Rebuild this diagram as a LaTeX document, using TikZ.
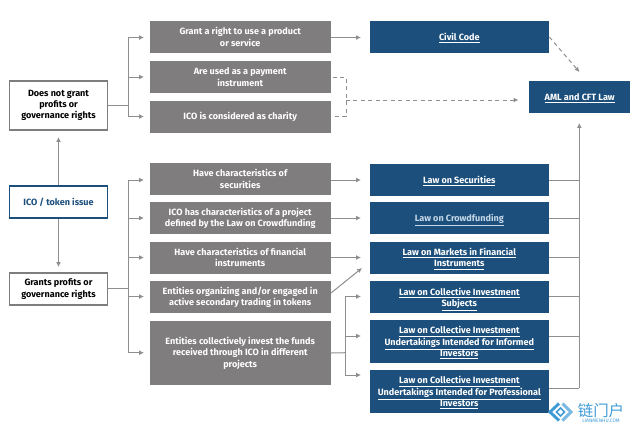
\documentclass[tikz,border=0pt]{standalone}
\usepackage{fontspec}
\setmainfont{Fira Sans}
\newfontfamily\cjkfont{Noto Sans CJK SC}
\usetikzlibrary{arrows.meta}
\definecolor{boxgray}{HTML}{7F7D7D}
\definecolor{boxblue}{HTML}{1C4F7C}
\definecolor{linegray}{HTML}{8E8E8E}
\definecolor{markblue}{HTML}{3F9BD6}
\definecolor{palelink}{HTML}{C5D8E8}
\tikzset{
  x=0.75pt,y=-0.75pt,
  basebox/.style={align=center,font=\fontsize{6.8pt}{8.5pt}\selectfont\bfseries,inner sep=0pt,minimum height=24pt},
  graybox/.style={basebox,fill=boxgray,text=white,minimum width=136pt},
  bluebox/.style={basebox,fill=boxblue,text=white,minimum width=134.6pt},
  startbox/.style={basebox,draw=boxgray,line width=0.9pt,fill=white,text=black,minimum width=73.5pt},
  conn/.style={draw=linegray,line width=0.75pt},
  arr/.style={conn,-{Latex[length=3.6pt,width=3.6pt]}},
  dashline/.style={draw=linegray,line width=0.75pt,dash pattern=on 3pt off 2.6pt},
}
\newcommand{\ul}[1]{\raisebox{0pt}[\height][0pt]{\underline{#1}}}
\begin{document}
\begin{tikzpicture}
\useasboundingbox (0,0) rectangle (635,430);
% left column
\node[startbox,minimum height=36.75pt] (a) at (58.5,105.5) {Does not grant\\profits or\\governance rights};
\node[startbox,draw=boxblue,text=boxblue] (b) at (58.5,202) {ICO / token issue};
\node[startbox] (c) at (58.5,289) {Grants profits or\\governance rights};
% gray column
\node[graybox] (g1) at (240.2,37) {Grant a right to use a product\\or service};
\node[graybox] (g2) at (240.2,77) {Are used as a payment\\instrument};
\node[graybox] (g3) at (240.2,117) {\raisebox{1.5pt}{ICO is considered as charity}};
\node[graybox] (g4) at (240.2,179) {Have characteristics of\\securities};
\node[graybox] (g5) at (240.2,218) {ICO has characteristics of a project\\defined by the Law on Crowdfunding};
\node[graybox] (g6) at (240.2,257.5) {Have characteristics of financial\\instruments};
\node[graybox] (g7) at (240.2,297) {Entities organizing and/or engaged in\\active secondary trading in tokens};
\node[graybox,minimum height=48pt] (g8) at (240.2,353) {Entities collectively invest the funds\\received through ICO in different\\projects};
% blue column
\node[bluebox] (l1) at (459.3,37) {\ul{Civil Code}};
\node[bluebox] (l2) at (459.3,179.5) {\ul{Law on Securities}};
\node[bluebox,text=palelink] (l3) at (459.3,218) {\ul{Law on Crowdfunding}};
\node[bluebox] (l4) at (459.3,257.5) {\ul{Law on Markets in Financial}\\\ul{Instruments}};
\node[bluebox] (l5) at (459.3,297) {\ul{Law on Collective Investment}\\\ul{Subjects}};
\node[bluebox,minimum height=32.25pt] (l6) at (459.3,341.5) {\ul{Law on Collective Investment}\\\ul{Undertakings Intended for Informed}\\\ul{Investors}};
\node[bluebox,minimum height=32.25pt] (l7) at (459.3,391.5) {\ul{Law on Collective Investment}\\\ul{Undertakings Intended for Professional}\\\ul{Investors}};
\node[bluebox,minimum width=75.4pt] (m) at (579.7,97) {\ul{AML and CFT Law}};
% helper points
\coordinate (t1) at (144,37.5);
\coordinate (t2) at (144,77);
\coordinate (t3) at (144,116.5);
\coordinate (t4) at (144,180);
\coordinate (t5) at (144,218);
\coordinate (t6) at (144,257.5);
\coordinate (t7) at (144,296.5);
\coordinate (t8) at (144,352.7);
\coordinate (bus1) at (128.5,105.5);
\coordinate (bus2) at (128.5,288.5);
\coordinate (r1) at (361,37.5);
\coordinate (r2) at (361,180);
\coordinate (r3) at (361,218);
\coordinate (r4) at (361,257.5);
\coordinate (r4b) at (362,268);
\coordinate (r5) at (361,296.5);
\coordinate (r6) at (361,336);
\coordinate (r7) at (361,375);
\coordinate (bus3) at (345.5,352.7);
\coordinate (top) at (579.3,123);
\coordinate (s2) at (579.3,180);
\coordinate (s3) at (579.3,218);
\coordinate (s4) at (579.3,257.5);
\coordinate (s5) at (579.3,296.5);
\coordinate (s6) at (579.3,336);
\coordinate (s7) at (579.3,388);
\coordinate (g7o) at (331,293);
\coordinate (d0) at (333,77);
\coordinate (d1) at (346,77);
\coordinate (d2) at (346,116.5);
\coordinate (d3) at (333,116.5);
\coordinate (dm) at (346,100);
\coordinate (dt) at (518.5,100);
\coordinate (ct) at (579.5,72);
% left connectors
\draw[arr] (b.north) -- (58.5,137);
\draw[arr] (b.south) -- (58.5,267);
\draw[conn] (a.east |- bus1) -- (bus1);
\draw[conn] (c.east |- bus2) -- (bus2);
\draw[arr] (bus1) |- (t1);
\draw[arr] (bus1) |- (t2);
\draw[arr] (bus1) |- (t3);
\draw[conn] (t4 -| bus1) -- (t8 -| bus1);
\foreach \t in {t4,t5,t6,t7,t8} \draw[arr] (\t -| bus1) -- (\t);
% gray to blue
\draw[arr] (g1.east |- r1) -- (r1);
\draw[arr] (g4.east |- r2) -- (r2);
\draw[arr] (g5.east |- r3) -- (r3);
\draw[arr] (g6.east |- r4) -- (r4);
\draw[arr] (g7o) -- (r4b);
\draw[conn] (g8.east) -- (bus3);
\draw[arr] (bus3) |- (r5);
\draw[arr] (bus3) |- (r6);
\draw[arr] (bus3) |- (r7);
% dashed
\draw[dashline] (d0) -- (d1) -- (d2) -- (d3);
\draw[dashline,-{Latex[length=3.6pt,width=3.6pt]}] (dm) -- (dt);
\draw[dashline,-{Latex[length=3.6pt,width=3.6pt]}] (l1.east) -- (ct);
% right bus
\draw[arr] (s7) -- (top);
\draw[conn] (l2.east |- s2) -- (s2);
\draw[conn] (l3.east |- s3) -- (s3);
\draw[conn] (l4.east |- s4) -- (s4);
\draw[conn] (l5.east |- s5) -- (s5);
\draw[conn] (l6.east |- s6) -- (s6);
\draw[conn] (l7.east |- s7) -- (s7);
% watermark
\draw[markblue,line width=2.2pt] (559,403.5) -- (550,412) -- (559,420.5);
\draw[markblue!70,line width=2.2pt] (562.5,403.5) -- (571,412) -- (562.5,420.5);
\draw[markblue,line width=1.2pt] (556.5,412) -- (560.5,408) -- (564.5,412) -- (560.5,416) -- cycle;
\node[text=markblue,font=\cjkfont\fontsize{11.6pt}{11.6pt}\selectfont,inner sep=0pt] (w1) at (601,410.5) {链门户};
\node[text=markblue,font=\fontsize{3.7pt}{3.7pt}\selectfont,inner sep=0pt] (w2) at (601,420.5) {LIANMENHU.COM};
\end{tikzpicture}
\end{document}
